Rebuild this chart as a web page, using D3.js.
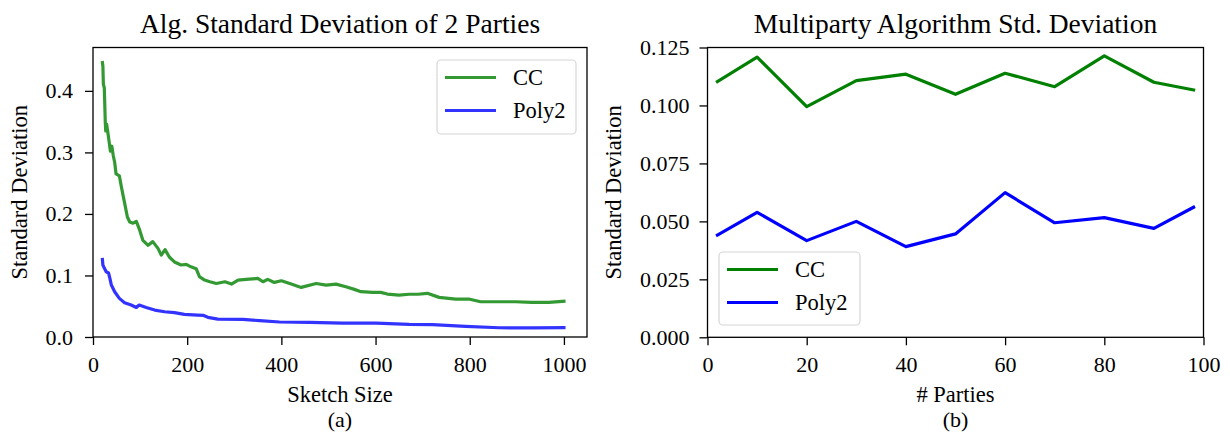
<!DOCTYPE html>
<html>
<head>
<meta charset="utf-8">
<script src="https://cdn.jsdelivr.net/npm/d3@7/dist/d3.min.js"></script>
<style>
  body { margin: 0; background: #fff; }
  svg { display: block; font-family: "Liberation Serif", "Times New Roman", serif; }
  .tick text { font-size: 22px; fill: #000; font-family: "Liberation Serif", "Times New Roman", serif; }
  .tick line { stroke: #000; stroke-width: 1.3; }
  .title { font-size: 27.5px; }
  .axis-label { font-size: 22.5px; }
  .caption { font-size: 22px; }
  .legend-text { font-size: 22.5px; }
</style>
</head>
<body>
<svg id="chart" width="1230" height="432"></svg>
<script>
// (a) sketch size vs std deviation, 2 parties
const ccSketch = [20, 21, 22, 24, 26, 27, 29, 32, 35, 37, 40, 43, 46, 49, 56, 60, 66, 73, 78, 85, 92, 99, 106, 117, 127, 138, 145, 153, 162, 173, 187, 198, 208, 219, 226, 237, 248, 262, 280, 294, 308, 325, 350, 361, 371, 385, 400, 421, 442, 474, 495, 516, 537, 555, 569, 594, 611, 625, 650, 671, 690, 710, 735, 770, 798, 823, 862, 897, 932, 968, 1000];
const ccStd = [0.446, 0.44, 0.411, 0.405, 0.351, 0.335, 0.346, 0.33, 0.313, 0.302, 0.31, 0.295, 0.284, 0.265, 0.262, 0.245, 0.222, 0.195, 0.187, 0.185, 0.188, 0.174, 0.157, 0.149, 0.155, 0.144, 0.133, 0.142, 0.130, 0.122, 0.117, 0.118, 0.114, 0.111, 0.098, 0.0925, 0.0898, 0.087, 0.0898, 0.086, 0.0925, 0.0936, 0.0952, 0.0898, 0.0936, 0.0887, 0.0914, 0.086, 0.0806, 0.087, 0.0844, 0.086, 0.0817, 0.0774, 0.0736, 0.0726, 0.0726, 0.0698, 0.0682, 0.0695, 0.0695, 0.071, 0.0644, 0.0617, 0.0617, 0.0573, 0.0573, 0.0573, 0.0563, 0.0563, 0.058];
const polySketch = [20, 21, 24, 28, 33, 36, 39, 46, 56, 67, 81, 92, 98, 113, 131, 152, 173, 194, 222, 235, 244, 265, 318, 354, 396, 460, 530, 601, 671, 721, 791, 862, 932, 1000];
const polyStd = [0.126, 0.117, 0.112, 0.106, 0.104, 0.095, 0.0844, 0.0736, 0.0628, 0.0557, 0.052, 0.048, 0.052, 0.048, 0.0438, 0.041, 0.0395, 0.0368, 0.0357, 0.035, 0.032, 0.029, 0.0287, 0.0265, 0.0244, 0.0238, 0.0227, 0.0227, 0.0205, 0.02, 0.0174, 0.015, 0.0148, 0.0151];

// (b) number of parties vs std deviation
const parties = [2, 10, 20, 30, 40, 50, 60, 70, 80, 90, 98];
const ccParty = [0.1103, 0.1208, 0.0995, 0.1107, 0.1135, 0.1048, 0.1139, 0.1081, 0.1214, 0.110, 0.1067];
const polyParty = [0.0441, 0.0539, 0.0417, 0.050, 0.0391, 0.0446, 0.0624, 0.0494, 0.0516, 0.047, 0.0561];

const xTicksA = [0, 200, 400, 600, 800, 1000];
const yTicksA = [0.0, 0.1, 0.2, 0.3, 0.4];
const xTicksB = [0, 20, 40, 60, 80, 100];
const yTicksB = [0.000, 0.025, 0.050, 0.075, 0.100, 0.125];

const svg = d3.select('#chart');

function panel(opts) {
  const { left, right, top, bottom } = opts.box;
  const x = d3.scaleLinear().domain(opts.xDomain).range([left, right]);
  const y = d3.scaleLinear().domain(opts.yDomain).range([bottom, top]);
  const g = svg.append('g');

  // Series
  const line = d3.line().x(d => x(d[0])).y(d => y(d[1]));
  for (const s of opts.series) {
    g.append('path')
      .datum(d3.zip(s.xs, s.ys))
      .attr('fill', 'none')
      .attr('stroke', s.color)
      .attr('stroke-opacity', s.opacity)
      .attr('stroke-width', opts.lineWidth)
      .attr('stroke-linejoin', 'round')
      .attr('stroke-linecap', 'square')
      .attr('d', line);
  }

  // Axes (d3 puts sans-serif on the group, drop it)
  g.append('g')
    .attr('transform', `translate(0,${bottom})`)
    .call(d3.axisBottom(x).tickValues(opts.xTicks).tickSize(8).tickPadding(11).tickSizeOuter(0).tickFormat(d3.format('d')))
    .attr('font-family', null).attr('font-size', null)
    .call(a => a.select('.domain').remove());
  g.append('g')
    .attr('transform', `translate(${left},0)`)
    .call(d3.axisLeft(y).tickValues(opts.yTicks).tickSize(8).tickPadding(opts.yPad).tickSizeOuter(0).tickFormat(d3.format(opts.yFormat)))
    .attr('font-family', null).attr('font-size', null)
    .call(a => a.select('.domain').remove());

  // Frame
  g.append('rect')
    .attr('x', left).attr('y', top)
    .attr('width', right - left).attr('height', bottom - top)
    .attr('fill', 'none').attr('stroke', '#000').attr('stroke-width', 1.3);

  const cx = (left + right) / 2;
  g.append('text').attr('class', 'title')
    .attr('x', cx).attr('y', 33).attr('text-anchor', 'middle').text(opts.title);
  g.append('text').attr('class', 'axis-label')
    .attr('x', cx).attr('y', 402).attr('text-anchor', 'middle').text(opts.xLabel);
  g.append('text').attr('class', 'caption')
    .attr('x', cx).attr('y', 427).attr('text-anchor', 'middle').text(opts.caption);
  g.append('text').attr('class', 'axis-label')
    .attr('transform', `translate(${opts.yLabelX},${(top + bottom) / 2}) rotate(-90)`)
    .attr('text-anchor', 'middle').text('Standard Deviation');

  // Legend
  const lg = opts.legend;
  g.append('rect')
    .attr('x', lg.x).attr('y', lg.y).attr('width', lg.w).attr('height', lg.h)
    .attr('rx', 4).attr('fill', '#fff').attr('fill-opacity', 0.8)
    .attr('stroke', '#d6d6d6').attr('stroke-width', 1.2);
  opts.series.forEach((s, i) => {
    const ly = lg.y + 17.5 + i * 33;
    g.append('line')
      .attr('x1', lg.x + 8).attr('x2', lg.x + 59).attr('y1', ly).attr('y2', ly)
      .attr('stroke', s.color).attr('stroke-opacity', s.opacity).attr('stroke-width', opts.lineWidth);
    g.append('text').attr('class', 'legend-text')
      .attr('x', lg.x + 76).attr('y', ly + 7.5).text(s.name);
  });
}

panel({
  box: { left: 93, right: 587, top: 47.5, bottom: 337 },
  xDomain: [0, 1049], yDomain: [0, 0.4705],
  xTicks: xTicksA, yTicks: yTicksA, yFormat: '.1f', yPad: 12,
  title: 'Alg. Standard Deviation of 2 Parties',
  xLabel: 'Sketch Size', caption: '(a)', yLabelX: 27,
  lineWidth: 3.2,
  series: [
    { name: 'CC', xs: ccSketch, ys: ccStd, color: '#008000', opacity: 0.8 },
    { name: 'Poly2', xs: polySketch, ys: polyStd, color: '#0000ff', opacity: 0.8 }
  ],
  legend: { x: 437, y: 60, w: 139, h: 74 }
});

panel({
  box: { left: 707.5, right: 1203.5, top: 47.5, bottom: 337.3 },
  xDomain: [0, 100], yDomain: [0, 0.125],
  xTicks: xTicksB, yTicks: yTicksB, yFormat: '.3f', yPad: 10,
  title: 'Multiparty Algorithm Std. Deviation',
  xLabel: '# Parties', caption: '(b)', yLabelX: 621,
  lineWidth: 3.2,
  series: [
    { name: 'CC', xs: parties, ys: ccParty, color: '#008000', opacity: 1 },
    { name: 'Poly2', xs: parties, ys: polyParty, color: '#0000ff', opacity: 1 }
  ],
  legend: { x: 719, y: 252, w: 141, h: 73 }
});
</script>
</body>
</html>
